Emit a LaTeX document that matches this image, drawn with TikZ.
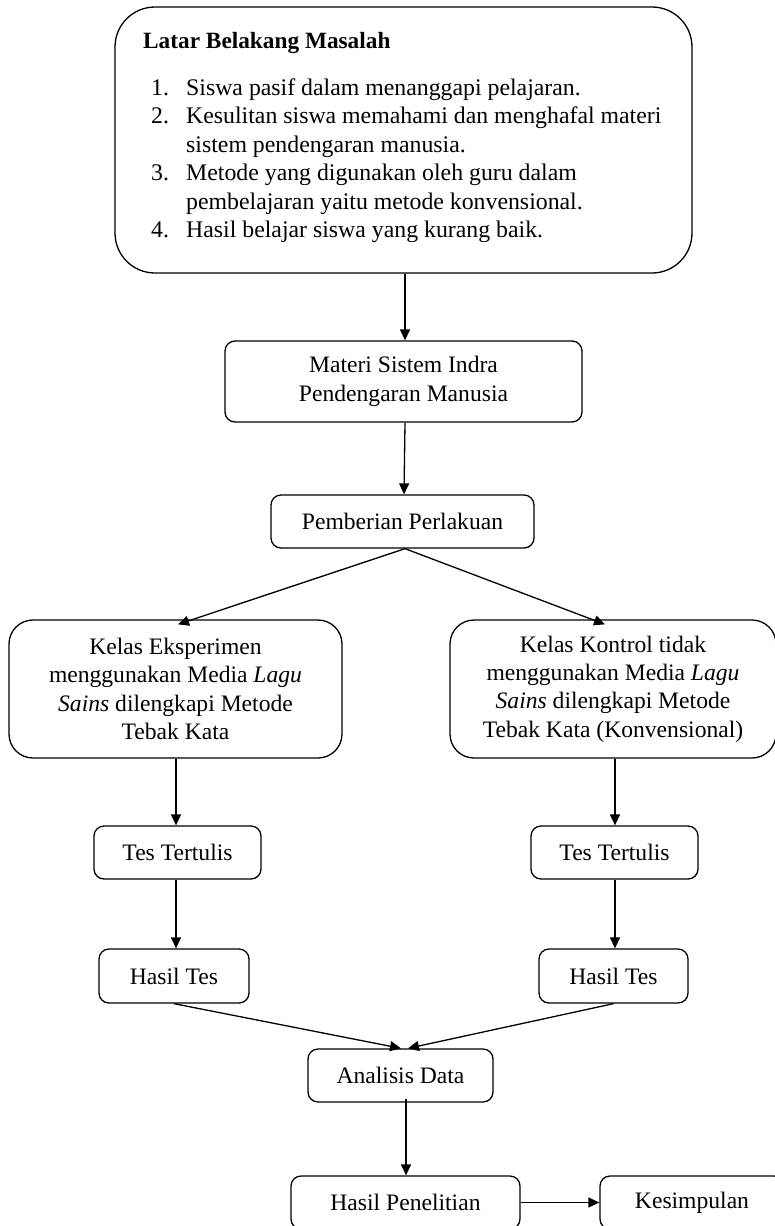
\documentclass[tikz,border=0pt]{standalone}
\usepackage{fontspec}
\setmainfont{Liberation Serif}
\usetikzlibrary{arrows.meta,positioning}
\tikzset{
  box/.style={draw=black, line width=1.3pt, rounded corners=10pt, align=center, inner sep=0pt,
    font=\fontsize{23.6}{28.4}\selectfont},
  bigbox/.style={box, rounded corners=40pt},
  midbox/.style={box, rounded corners=24pt},
  txt/.style={anchor=base west, inner sep=0pt, font=\fontsize{23.8}{28.4}\selectfont},
  arr/.style={line width=1.3pt, -{Triangle[length=11pt,width=10pt]}},
}
\begin{document}
\begin{tikzpicture}[x=1pt,y=-1pt]
\clip (0,0) rectangle (775,1226);
\fill[white] (0,0) rectangle (775,1226);
% top box
\node[bigbox, minimum width=577pt, minimum height=266pt] (top) at (403.5,140) {};
\node[txt, font=\fontsize{23.3}{28.4}\selectfont\bfseries] (title) at (143,48) {Latar Belakang Masalah};
\node[txt] (n1) at (151,95) {1.};
\node[txt] (l1) at (186,95) {Siswa pasif dalam menanggapi pelajaran.};
\node[txt] (n2) at (151,123.5) {2.};
\node[txt] (l2) at (186,123.5) {Kesulitan siswa memahami dan menghafal materi};
\node[txt] (l2b) at (186,152) {sistem pendengaran manusia.};
\node[txt] (n3) at (151,180.5) {3.};
\node[txt] (l3) at (186,180.5) {Metode yang digunakan oleh guru dalam};
\node[txt] (l3b) at (186,209) {pembelajaran yaitu metode konvensional.};
\node[txt] (n4) at (151,237.5) {4.};
\node[txt] (l4) at (186,237.5) {Hasil belajar siswa yang kurang baik.};
% nodes
\node[box, minimum width=357pt, minimum height=81pt] (materi) at (403.5,381.5) {Materi Sistem Indra\\Pendengaran Manusia};
\node[box, minimum width=263pt, minimum height=53pt] (beri) at (402.5,521.5) {Pemberian Perlakuan};
\node[midbox, minimum width=333pt, minimum height=138pt] (kelasL) at (175.5,689)
  {Kelas Eksperimen\\menggunakan Media \textit{Lagu}\\\textit{Sains} dilengkapi Metode\\Tebak Kata};
\node[midbox, minimum width=326pt, minimum height=138pt] (kelasR) at (613,689)
  {Kelas Kontrol tidak\\menggunakan Media \textit{Lagu}\\\textit{Sains} dilengkapi Metode\\Tebak Kata (Konvensional)};
\node[box, minimum width=167pt, minimum height=53pt] (tesL) at (177.5,852.5) {Tes Tertulis};
\node[box, minimum width=167pt, minimum height=53pt] (tesR) at (614.5,852.5) {Tes Tertulis};
\node[box, minimum width=150pt, minimum height=54pt] (hasilL) at (174,976) {Hasil Tes};
\node[box, minimum width=149pt, minimum height=54pt] (hasilR) at (613.5,976) {Hasil Tes};
\node[box, minimum width=185pt, minimum height=53pt] (anal) at (400.5,1075.5) {Analisis Data};
\node[box, minimum width=229pt, minimum height=53pt] (hasilP) at (405.5,1202.5) {Hasil Penelitian};
\node[box, minimum width=184pt, minimum height=53pt] (kes) at (692,1202.5) {Kesimpulan};
% connectors
\draw[arr] ([xshift=1.5pt]top.south) -- ([xshift=1.5pt]materi.north);
\draw[arr] ([xshift=1.5pt]materi.south) -- ([xshift=1.5pt]beri.north);
\draw[arr] ([xshift=2.5pt]beri.south) -- ([xshift=2.5pt,yshift=-5pt]kelasL.north);
\draw[arr] ([xshift=2.5pt]beri.south) -- ([xshift=-8pt,yshift=-5pt]kelasR.north);
\draw[arr] ([xshift=0.5pt]kelasL.south) -- ([xshift=-1.5pt]tesL.north);
\draw[arr] ([xshift=2pt]kelasR.south) -- ([xshift=0.5pt]tesR.north);
\draw[arr] ([xshift=-1.5pt]tesL.south) -- ([xshift=2pt]hasilL.north);
\draw[arr] ([xshift=0.5pt]tesR.south) -- ([xshift=1.5pt]hasilR.north);
\draw[arr] (hasilL.south) -- ([xshift=0.5pt]anal.north);
\draw[arr] (hasilR.south) -- ([xshift=7.5pt]anal.north);
\draw[arr] ([xshift=5.5pt,yshift=4pt]anal.south) -- ([xshift=0.5pt]hasilP.north);
\draw[arr] (hasilP.east) -- (kes.west);
\end{tikzpicture}
\end{document}
